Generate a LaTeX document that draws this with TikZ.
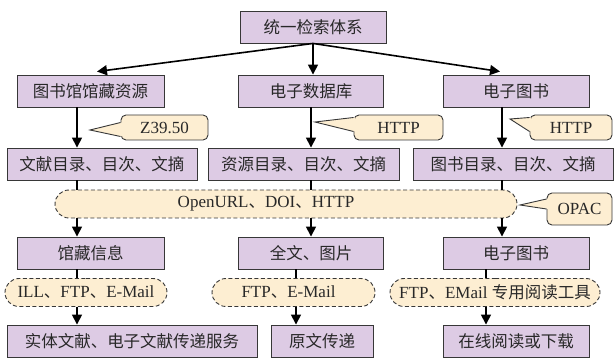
\documentclass[tikz,border=0pt]{standalone}
\usepackage{fontspec}
\setmainfont{Liberation Serif}
\newfontfamily\cjk{Noto Sans CJK SC}
\usetikzlibrary{arrows.meta,shapes.misc,calc}
\definecolor{boxfill}{RGB}{221,203,228}
\definecolor{cream}{RGB}{253,238,210}
\definecolor{edgecol}{RGB}{55,55,55}
\definecolor{txtcol}{RGB}{40,40,40}
\newcommand{\zh}[1]{{\cjk\fontsize{16.5}{16.5}\selectfont #1}}
% pointer of a callout: node, tip coordinate, upper and lower offsets on the west side
\newcommand{\tagptr}[4]{%
  \fill[cream] ($(#1.west)+(1.2,#3)$) -- (#2) -- ($(#1.west)+(1.2,#4)$) -- cycle;
  \draw[edgecol,line width=0.9pt,line join=miter] ($(#1.west)+(0,#3)$) -- (#2) -- ($(#1.west)+(0,#4)$);}
\begin{document}
\begin{tikzpicture}[x=1pt,y=1pt,
  box/.style={draw=edgecol,line width=0.9pt,fill=boxfill,minimum height=32pt,inner sep=0pt,text=txtcol,font=\fontsize{17}{17}\selectfont},
  band/.style={rounded rectangle,draw=edgecol,dash pattern=on 4pt off 2.5pt,line width=0.9pt,fill=cream,minimum height=28pt,inner sep=0pt,text=txtcol,font=\fontsize{17}{17}\selectfont},
  tag/.style={draw=edgecol,line width=0.9pt,fill=cream,rounded corners=5pt,minimum height=25pt,inner sep=0pt,text=txtcol,font=\fontsize{17}{17}\selectfont},
  arr/.style={line width=1.6pt,-{Triangle[width=10pt,length=10pt]}},
  ln/.style={line width=1.6pt}]
\useasboundingbox (0,0) rectangle (614,-358);
% row 1
\node[box,minimum width=146pt] (top) at (313,-27) {\zh{统一检索体系}};
% row 2
\node[box,minimum width=147pt] (lib) at (90.5,-91) {\zh{图书馆馆藏资源}};
\node[box,minimum width=145pt] (db) at (311,-91) {\zh{电子数据库}};
\node[box,minimum width=146pt] (eb) at (516,-91) {\zh{电子图书}};
% row 3
\node[box,minimum width=190pt] (ra) at (102,-164) {\zh{文献目录、目次、文摘}};
\node[box,minimum width=191pt] (rb) at (303.5,-164) {\zh{资源目录、目次、文摘}};
\node[box,minimum width=200pt] (rc) at (513,-164) {\zh{图书目录、目次、文摘}};
% band
\node[band,minimum width=462pt] (bd) at (286,-204) {\hspace*{-40pt}OpenURL\zh{、}DOI\zh{、}HTTP};
% row 5
\node[box,minimum width=147pt] (sa) at (90.5,-253) {\zh{馆藏信息}};
\node[box,minimum width=145pt] (sb) at (311,-253) {\zh{全文、图片}};
\node[box,minimum width=146pt] (sc) at (516,-253) {\zh{电子图书}};
% row 6
\node[band,minimum width=162pt] (ta) at (86,-292.5) {ILL\zh{、}FTP\zh{、}E-Mail};
\node[band,minimum width=163pt] (tb) at (293.5,-292.5) {\hspace*{-10pt}FTP\zh{、}E-Mail};
\node[band,minimum width=210pt] (tc) at (495,-292.5) {FTP\zh{、}EMail \zh{专用阅读工具}};
% row 7
\node[box,minimum width=250pt] (ua) at (132,-341) {\zh{实体文献、电子文献传递服务}};
\node[box,minimum width=102pt] (ub) at (322,-341) {\zh{原文传递}};
\node[box,minimum width=146pt] (uc) at (516,-341) {\zh{在线阅读或下载}};
% callouts
\node[tag,minimum width=87pt] (c1) at (164.5,-127.5) {Z39.50};
\node[tag,minimum width=89pt] (c2) at (398.5,-127.5) {HTTP};
\node[tag,minimum width=82pt] (c3) at (571,-127.5) {HTTP};
\node[tag,minimum width=65pt,minimum height=32pt] (c4) at (579.5,-209) {OPAC};
\coordinate (p1) at (90,-130);
\coordinate (p2) at (315,-122);
\coordinate (p3) at (510,-119);
\coordinate (p4) at (520,-205);
\tagptr{c1}{p1}{5}{-9}
\tagptr{c2}{p2}{10}{-4}
\tagptr{c3}{p3}{10}{-4}
\tagptr{c4}{p4}{10}{0}
% x positions
\coordinate (xl) at (77,0);
\coordinate (xm) at (311,0);
\coordinate (xr) at (502,0);
\coordinate (xmb) at (296,0);
\coordinate (xrb) at (486,0);
% top arrows
\draw[arr] (top.south) -- ($(lib.north)+(6.5,3)$);
\draw[arr] (top.south) -- (top.south |- db.north);
\draw[arr] (top.south) -- ($(eb.north)+(-16,3)$);
% row2 -> row3
\draw[arr] (xl |- lib.south) -- (xl |- ra.north);
\draw[arr] (xm |- db.south) -- (xm |- rb.north);
\draw[arr] (xr |- eb.south) -- (xr |- rc.north);
% row3 -> band -> row5
\draw[ln] (xl |- ra.south) -- (xl |- bd.north);
\draw[ln] (xm |- rb.south) -- (xm |- bd.north);
\draw[ln] (xr |- rc.south) -- (xr |- bd.north);
\draw[arr] (xl |- bd.south) -- (xl |- sa.north);
\draw[arr] (xm |- bd.south) -- (xm |- sb.north);
\draw[arr] (xr |- bd.south) -- (xr |- sc.north);
% row5 -> row6 -> row7
\draw[ln] (xl |- sa.south) -- (xl |- ta.north);
\draw[ln] (xmb |- sb.south) -- (xmb |- tb.north);
\draw[ln] (xrb |- sc.south) -- (xrb |- tc.north);
\draw[arr] (xl |- ta.south) -- (xl |- ua.north);
\draw[arr] (xmb |- tb.south) -- (xmb |- ub.north);
\draw[arr] (xrb |- tc.south) -- (xrb |- uc.north);
\end{tikzpicture}
\end{document}
